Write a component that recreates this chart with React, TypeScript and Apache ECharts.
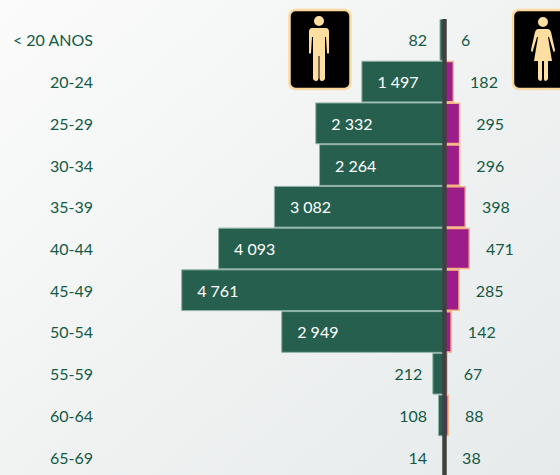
import React, { useEffect, useRef } from "react";
import * as echarts from "echarts";

const categories = ["< 20 ANOS", "20-24", "25-29", "30-34", "35-39", "40-44", "45-49", "50-54", "55-59", "60-64", "65-69"];
const maleValues = [82, 1497, 2332, 2264, 3082, 4093, 4761, 2949, 212, 108, 14];
const femaleValues = [6, 182, 295, 296, 398, 471, 285, 142, 67, 88, 38];

const GREEN = "#125a45";
const FONT = "Lato, sans-serif";
const FONT_SIZE = 16;
const outsideGap: Record<number, number> = { 82: 12.5, 212: 10, 108: 11, 14: 16 };

const manPath =
  "M-5 21a5 5 0 1 0 10 0a5 5 0 1 0 -10 0Z M-7 28L7 28Q10 28 10 32L10 53Q9 54.500 8 53L7 37L6 37L6 79Q5 81.500 2 81Q0.500 80 0.500 78L0.500 56L-0.500 56L-0.500 78Q-0.500 80 -2 81Q-5 81.500 -6 79L-6 37L-7 37L-8 53Q-9 54.500 -10 53L-10 32Q-10 28 -7 28Z";
const womanPath =
  "M-5 22a5 5 0 1 0 10 0a5 5 0 1 0 -10 0Z M-5 29L5 29Q7 29 8 32L12 50Q12 52 10.500 52L6 37L5 37L9 61L5 61L5 79Q4 81 2 81Q1 80 1 79L1 61L-1 61L-1 79Q-1 80 -2 81Q-4 81 -5 79L-5 61L-9 61L-5 37L-6 37L-10.500 52Q-12 52 -12 50L-8 32Q-7 29 -5 29Z";

echarts.graphic.registerShape("manIcon", echarts.graphic.extendPath(manPath, {}));
echarts.graphic.registerShape("womanIcon", echarts.graphic.extendPath(womanPath, {}));

const fmt = (v: number) => String(Math.abs(v)).replace(/\B(?=(\d{3})+$)/g, " ");

export default function App() {
  const ref = useRef<HTMLDivElement>(null);
  useEffect(() => {
    document.body.style.margin = "0";
    const chart = echarts.init(ref.current!, null, { renderer: "svg" });
    const iconBox = (x: number) => ({
      type: "rect",
      shape: { x, y: 10, width: 61, height: 79, r: 6 },
      style: { fill: "#000000", stroke: "#fbd9a0", lineWidth: 2.5 },
      z: 10,
    });
    chart.setOption({
      animation: false,
      backgroundColor: {
        type: "linear", x: 0, y: 0, x2: 1, y2: 1,
        colorStops: [
          { offset: 0, color: "#fbfbfb" },
          { offset: 1, color: "#e6eaea" },
        ],
      },
      grid: { left: 100, width: 460, top: 19, height: 459, containLabel: false },
      xAxis: { type: "value", min: -6232, max: 2101, show: false },
      yAxis: {
        type: "category",
        inverse: true,
        data: categories,
        axisLine: { show: false },
        axisTick: { show: false },
        splitLine: { show: false },
        axisLabel: { color: GREEN, fontFamily: FONT, fontSize: FONT_SIZE, margin: 7, align: "right" },
      },
      series: [
        {
          type: "bar",
          barWidth: "100%",
          barGap: "-100%",
          data: maleValues.map((v) => ({
            value: -v,
            label:
              v > 1000
                ? { position: "insideLeft", distance: 16, color: "#ffffff" }
                : { position: "left", distance: outsideGap[v] ?? 12, color: GREEN },
          })),
          itemStyle: { color: "#265f4e", borderColor: "#8fb0a6", borderWidth: 1 },
          label: { show: true, fontFamily: FONT, fontSize: FONT_SIZE, formatter: (p: any) => fmt(p.value) },
          markLine: {
            silent: true,
            symbol: "none",
            label: { show: false },
            lineStyle: { color: "#404040", width: 4.5, type: "solid" },
            data: [{ xAxis: 0 }],
            z: 8,
          },
        },
        {
          type: "bar",
          barWidth: "100%",
          data: femaleValues,
          itemStyle: { color: "#9c1c8a", borderColor: "#f7b183", borderWidth: 1.5 },
          label: {
            show: true,
            position: "right",
            distance: 16,
            color: GREEN,
            fontFamily: FONT,
            fontSize: FONT_SIZE,
            formatter: (p: any) => fmt(p.value),
          },
        },
      ],
      graphic: [
        iconBox(289.5),
        { type: "manIcon", x: 319, y: 0, style: { fill: "#ffdf9f" }, z: 11 },
        iconBox(513),
        { type: "womanIcon", x: 543, y: 0, style: { fill: "#ffdf9f" }, z: 11 },
      ],
    });
    return () => chart.dispose();
  }, []);
  return (
    <div style={{ width: 560, height: 475, overflow: "hidden" }}>
      <div ref={ref} style={{ width: 560, height: 490 }} />
    </div>
  );
}
